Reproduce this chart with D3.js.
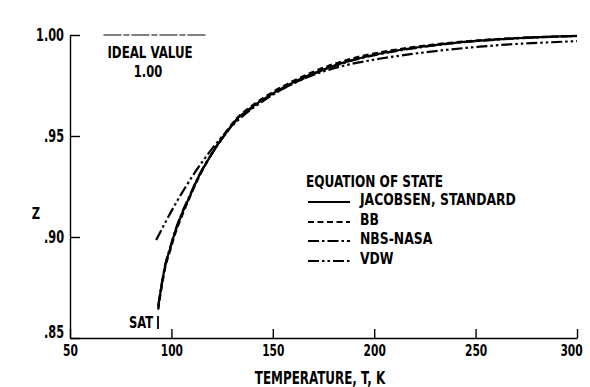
<!DOCTYPE html>
<html>
<head>
<meta charset="utf-8">
<script src="https://cdn.jsdelivr.net/npm/d3@7"></script>
<style>
  html, body { margin: 0; padding: 0; background: #fff; }
  svg { display: block; }
  text {
    font-family: "DejaVu Sans Condensed", "DejaVu Sans", sans-serif;
    font-weight: bold;
    fill: #000;
  }
</style>
</head>
<body>
<svg id="chart" width="590" height="387"></svg>
<script>
// Compressibility factor Z of nitrogen vapour vs temperature for four equations of state.
const tempTicks = [50, 100, 150, 200, 250, 300];
const zTicks = [0.85, 0.90, 0.95, 1.00];
const zTickLabels = [".85", ".90", ".95", "1.00"];

const seriesNames = ["JACOBSEN, STANDARD", "BB", "NBS-NASA", "VDW"];

// Temperature grid shared by the three close curves (K)
const tempMain = [93.5, 94.5, 95.5, 97, 99.3, 102, 105, 109, 113, 118, 123, 127.3, 132, 140, 150, 160, 170, 180, 190, 205, 220, 235, 252, 270, 288, 300];
const zJacobsen = [0.865, 0.872, 0.878, 0.886, 0.894, 0.903, 0.911, 0.920, 0.929, 0.938, 0.946, 0.952, 0.958, 0.9645, 0.9711, 0.9765, 0.981, 0.9848, 0.9878, 0.9912, 0.9937, 0.9956, 0.9972, 0.9984, 0.9992, 0.9996];
const zBB       = [0.864, 0.871, 0.877, 0.885, 0.893, 0.902, 0.910, 0.9195, 0.9285, 0.938, 0.9462, 0.9525, 0.9585, 0.9652, 0.9718, 0.9772, 0.9818, 0.9856, 0.9886, 0.9918, 0.9941, 0.9959, 0.9974, 0.9985, 0.9992, 0.9995];
const zNBS      = [0.866, 0.8725, 0.8785, 0.8865, 0.8945, 0.9035, 0.9115, 0.9205, 0.9292, 0.9382, 0.9458, 0.9518, 0.9578, 0.964, 0.9706, 0.976, 0.9806, 0.9845, 0.9876, 0.991, 0.9935, 0.9955, 0.9971, 0.9983, 0.9991, 0.9995];

// Van der Waals curve on its own grid
const tempVDW = [92.5, 96, 100, 105, 110, 115, 120, 127, 135, 145, 155, 165, 175, 185, 200, 218, 236, 252, 269, 285, 300];
const zVDW    = [0.8985, 0.9053, 0.9128, 0.9215, 0.9295, 0.9369, 0.9436, 0.952, 0.9597, 0.9672, 0.9734, 0.9782, 0.982, 0.9848, 0.9878, 0.9905, 0.9927, 0.9942, 0.9955, 0.9963, 0.997];

// Saturation temperature marker
const tempSat = 93.4;

const series = [
  { name: seriesNames[0], t: tempMain, z: zJacobsen, dash: null },
  { name: seriesNames[1], t: tempMain, z: zBB, dash: "6,3.5" },
  { name: seriesNames[2], t: tempMain, z: zNBS, dash: "11,3,2.5,3" },
  { name: seriesNames[3], t: tempVDW, z: zVDW, dash: "11,3,2.5,3,2.5,3" }
];

const svg = d3.select("#chart");

// Narrow lettering: squeeze each text horizontally around its anchor
function squeeze(sel, k) {
  sel.each(function () {
    const len = this.getComputedTextLength();
    d3.select(this)
      .attr("textLength", len * k)
      .attr("lengthAdjust", "spacingAndGlyphs");
  });
  return sel;
}

const x = d3.scaleLinear().domain([50, 300]).range([70, 577]);
const y = d3.scaleLinear().domain([0.85, 1.00]).range([338, 35]);

// Axes: ticks point into the plot
const xAxis = d3.axisBottom(x)
  .tickValues(tempTicks)
  .tickFormat(d3.format("d"))
  .tickSizeInner(-9)
  .tickSizeOuter(0)
  .tickPadding(7);

const yAxis = d3.axisLeft(y)
  .tickValues(zTicks)
  .tickFormat((d, i) => zTickLabels[i])
  .tickSizeInner(-10)
  .tickSizeOuter(0)
  .tickPadding(6);

const gx = svg.append("g").attr("transform", `translate(0,${y(0.85)})`).call(xAxis);
const gy = svg.append("g").attr("transform", `translate(${x(50)},0)`).call(yAxis);

[gx, gy].forEach(g => {
  g.attr("font-family", null).attr("font-size", null);
  g.select(".domain").attr("stroke", "#000").attr("stroke-width", 1.4);
  g.selectAll(".tick line").attr("stroke", "#000").attr("stroke-width", 1.4);
});
gx.selectAll(".tick text").attr("font-size", 16).attr("fill", "#000");
gy.selectAll(".tick text").attr("font-size", 17).attr("fill", "#000");
squeeze(gx.selectAll(".tick text"), 0.74);
squeeze(gy.selectAll(".tick text"), 0.74);

// Keep the last temperature label inside the frame
gx.selectAll(".tick text").filter(d => d === 300).attr("dx", -6);
// The bottom Z label sits above the corner, clear of the first temperature label
gy.selectAll(".tick text").filter(d => d === 0.85).attr("dy", "-0.05em");

// Axis titles
squeeze(svg.append("text")
  .attr("x", 320).attr("y", 384)
  .attr("text-anchor", "middle")
  .attr("font-size", 17)
  .text("TEMPERATURE, T, K"), 0.78);

squeeze(svg.append("text")
  .attr("x", 36).attr("y", 219)
  .attr("text-anchor", "middle")
  .attr("font-size", 16)
  .text("Z"), 0.8);

// Ideal value reference
svg.append("line")
  .attr("x1", x(66.5)).attr("x2", x(117))
  .attr("y1", y(1.00)).attr("y2", y(1.00))
  .attr("stroke", "#000").attr("stroke-width", 1)
  .attr("stroke-dasharray", "18,2,6,2");

squeeze(svg.append("text")
  .attr("x", 150).attr("y", 58)
  .attr("text-anchor", "middle")
  .attr("font-size", 16)
  .text("IDEAL VALUE"), 0.82);

squeeze(svg.append("text")
  .attr("x", 148).attr("y", 77)
  .attr("text-anchor", "middle")
  .attr("font-size", 16)
  .text("1.00"), 0.8);

// Curves
const line = d3.line()
  .x(d => x(d[0]))
  .y(d => y(d[1]))
  .curve(d3.curveMonotoneX);

svg.append("g").selectAll("path")
  .data(series)
  .join("path")
  .attr("d", s => line(s.t.map((t, i) => [t, s.z[i]])))
  .attr("fill", "none")
  .attr("stroke", "#000")
  .attr("stroke-width", 2.2)
  .attr("stroke-dasharray", s => s.dash);

// Saturation marker
svg.append("line")
  .attr("x1", x(tempSat)).attr("x2", x(tempSat))
  .attr("y1", 316).attr("y2", 329)
  .attr("stroke", "#000").attr("stroke-width", 1.8);

squeeze(svg.append("text")
  .attr("x", x(tempSat) - 5).attr("y", 328)
  .attr("text-anchor", "end")
  .attr("font-size", 16)
  .text("SAT"), 0.8);

// Legend
squeeze(svg.append("text")
  .attr("x", 306).attr("y", 187)
  .attr("font-size", 16)
  .text("EQUATION OF STATE"), 0.84);

const rowY = [199, 219, 238, 258];
const legend = svg.append("g").selectAll("g")
  .data(series)
  .join("g")
  .attr("transform", (s, i) => `translate(0,${rowY[i]})`);

legend.append("line")
  .attr("x1", 308).attr("x2", 350)
  .attr("y1", 3).attr("y2", 3)
  .attr("stroke", "#000").attr("stroke-width", 2)
  .attr("stroke-dasharray", s => s.dash);

squeeze(legend.append("text")
  .attr("x", 360).attr("y", 6)
  .attr("font-size", 16)
  .text(s => s.name), 0.86);
</script>
</body>
</html>
